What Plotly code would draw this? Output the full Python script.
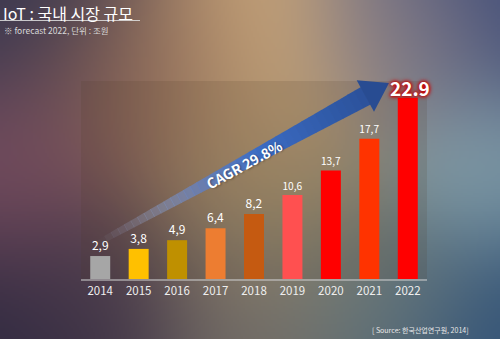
import base64
import math
import struct
import zlib

import numpy as np
import plotly.graph_objects as go

# ---- data -------------------------------------------------------------
years = ["2014", "2015", "2016", "2017", "2018", "2019", "2020", "2021", "2022"]
market_size = [2.9, 3.8, 4.9, 6.4, 8.2, 10.6, 13.7, 17.7, 22.9]  # 조원
bar_colors = ["#a6a6a6", "#ffc000", "#bf9000", "#ed7d31", "#c55a11",
              "#ff5050", "#ff0000", "#ff3300", "#ff0000"]
cagr_text = "CAGR 29.8%"
title_text = "IoT : 국내 시장 규모"
subtitle_text = "※ forecast 2022, 단위 : 조원"
source_text = "[ Source: 한국산업연구원, 2014]"

W, H = 500, 339
KR = "Noto Sans CJK KR"


def px(x):
    return x / W


def py(y):
    return 1 - y / H


# ---- blurred backdrop, rendered to a small PNG ---------------------------
def backdrop_png(w=250, h=170):
    blobs = [  # (x, y, colour, sigma) in page pixels
        (0, 0, (58, 56, 80), 90),
        (15, 175, (128, 80, 98), 70),
        (0, 339, (44, 40, 64), 90),
        (140, 90, (130, 92, 78), 70),
        (250, 60, (203, 167, 122), 80),
        (260, 200, (160, 142, 108), 80),
        (250, 335, (110, 106, 102), 70),
        (400, 40, (138, 128, 136), 60),
        (500, 0, (68, 80, 122), 80),
        (475, 170, (134, 162, 172), 60),
        (500, 339, (52, 84, 120), 90),
        (380, 300, (106, 122, 122), 60),
        (100, 300, (74, 58, 74), 70),
    ]
    xs = (np.arange(w) + 0.5) * W / w
    ys = (np.arange(h) + 0.5) * H / h
    X, Y = np.meshgrid(xs, ys)
    num = np.zeros((h, w, 3))
    den = np.zeros((h, w, 1))
    for bx, by, col, s in blobs:
        wgt = np.exp(-((X - bx) ** 2 + (Y - by) ** 2) / (2 * s * s))[..., None]
        num += wgt * np.array(col, dtype=float)
        den += wgt
    img = np.clip(num / (den + 1e-12), 0, 255).astype(np.uint8)
    raw = b"".join(b"\x00" + img[r].tobytes() for r in range(h))

    def chunk(tag, data):
        c = struct.pack(">I", len(data)) + tag + data
        return c + struct.pack(">I", zlib.crc32(tag + data) & 0xFFFFFFFF)

    png = (b"\x89PNG\r\n\x1a\n"
           + chunk(b"IHDR", struct.pack(">IIBBBBB", w, h, 8, 2, 0, 0, 0))
           + chunk(b"IDAT", zlib.compress(raw, 9))
           + chunk(b"IEND", b""))
    return "data:image/png;base64," + base64.b64encode(png).decode()


# ---- growth arrow (page pixels), drawn as fading slices ------------------
tip = (389.0, 83.0)
ang = math.radians(28.8)
u = (math.cos(ang), -math.sin(ang))
n = (math.sin(ang), math.cos(ang))
shaft_len, head_len = 331.0, 27.0
tail_half, neck_half, head_half = 3.0, 10.0, 18.0
base = (tip[0] - head_len * u[0], tip[1] - head_len * u[1])
tail = (tip[0] - shaft_len * u[0], tip[1] - shaft_len * u[1])


def along(t, k):
    """Point at distance t from the tail along the shaft, offset k across."""
    return (tail[0] + t * u[0] + k * n[0], tail[1] + t * u[1] + k * n[1])


def arrow_colour(f):
    stops = [(0.0, (170, 185, 220, 0.0)), (0.15, (150, 170, 215, 0.3)),
             (0.35, (95, 128, 200, 0.75)), (0.55, (60, 108, 196, 1.0)),
             (0.8, (48, 90, 168, 1.0)), (1.0, (40, 76, 146, 1.0))]
    for (f0, c0), (f1, c1) in zip(stops, stops[1:]):
        if f <= f1:
            a = (f - f0) / (f1 - f0)
            c = [c0[i] + a * (c1[i] - c0[i]) for i in range(4)]
            return f"rgba({c[0]:.0f},{c[1]:.0f},{c[2]:.0f},{c[3]:.2f})"
    return "rgba(40,76,146,1)"


fig = go.Figure()

# ---- bars -----------------------------------------------------------------
label_tpl = ["%{y:.1f}"] * (len(years) - 1) + [""]
fig.add_trace(go.Bar(
    x=years, y=market_size,
    marker=dict(color=bar_colors, line=dict(width=0)),
    texttemplate=label_tpl, textposition="outside",
    textfont=dict(family=KR, size=12, color="#ffffff"),
    cliponaxis=False, hoverinfo="skip", showlegend=False,
))

body_len = shaft_len - head_len
n_slices = 40
for i in range(n_slices):
    t0 = body_len * i / n_slices
    t1 = body_len * (i + 1) / n_slices + 0.6
    h0 = tail_half + (neck_half - tail_half) * t0 / body_len
    h1 = tail_half + (neck_half - tail_half) * min(t1, body_len) / body_len
    pts = [along(t0, -h0), along(t1, -h1), along(t1, h1), along(t0, h0),
           along(t0, -h0)]
    fig.add_trace(go.Scatter(
        x=[p[0] for p in pts], y=[p[1] for p in pts], xaxis="x2", yaxis="y2",
        mode="lines", line=dict(width=0), fill="toself",
        fillcolor=arrow_colour((t0 + t1) / 2 / shaft_len),
        hoverinfo="skip", showlegend=False,
    ))
head = [along(body_len, -head_half), tip, along(body_len, head_half),
        along(body_len, -head_half)]
fig.add_trace(go.Scatter(
    x=[p[0] for p in head], y=[p[1] for p in head], xaxis="x2", yaxis="y2",
    mode="lines", line=dict(width=0), fill="toself",
    fillcolor="rgb(40,76,146)", hoverinfo="skip", showlegend=False,
))

mid = along(shaft_len * 0.5, 1.0)
fig.add_annotation(
    x=mid[0], y=mid[1], xref="x2", yref="y2",
    text=f"<b>{cagr_text}</b>", showarrow=False,
    textangle=-math.degrees(ang),
    font=dict(family=KR, size=14, color="#ffffff",
              shadow="1px 1px 2px rgba(0,0,0,0.35)"),
)

# highlighted 2022 value (x given as category index)
last = len(years) - 1
fig.add_annotation(
    x=last, y=market_size[last], xref="x", yref="y",
    text=f"<b>{market_size[last]:.1f}</b>", showarrow=False,
    yanchor="middle", yshift=10, xshift=2,
    font=dict(family=KR, size=19, color="#ffffff",
              shadow="0 0 3px #c80000, 0 0 4px #c80000, 0 0 5px #d00000"),
)

# heading, subtitle, source
fig.add_annotation(x=px(2), y=1, xref="paper", yref="paper",
                   xanchor="left", yanchor="top", showarrow=False,
                   borderpad=0, text=title_text,
                   font=dict(family=KR, size=16, color="#ffffff"))
fig.add_annotation(x=px(3), y=py(30.5), xref="paper", yref="paper",
                   xanchor="left", yanchor="middle", showarrow=False,
                   borderpad=0, text=subtitle_text,
                   font=dict(family=KR, size=8.5, color="#d8d8d8"))
fig.add_annotation(x=px(471), y=py(330), xref="paper", yref="paper",
                   xanchor="right", yanchor="middle", showarrow=False,
                   text=source_text,
                   font=dict(family=KR, size=7, color="#e8e8e8"))

x0, x1, y0, y1 = 81, 427, 81, 279
fig.update_layout(
    width=W, height=H, margin=dict(l=0, r=0, t=0, b=0),
    paper_bgcolor="#5a5060", plot_bgcolor="rgba(0,0,0,0)",
    separators=",.", showlegend=False, bargap=0.48,
    images=[dict(source=backdrop_png(), xref="paper", yref="paper",
                 x=0, y=1, sizex=1, sizey=1, sizing="stretch",
                 xanchor="left", yanchor="top", layer="below")],
    shapes=[
        dict(type="rect", xref="paper", yref="paper",
             x0=px(x0), x1=px(x1), y0=py(y1), y1=py(y0),
             fillcolor="rgba(80,60,35,0.14)", line=dict(width=0),
             layer="below"),
        dict(type="line", xref="paper", yref="paper",
             x0=px(0), x1=px(140), y0=py(20.5), y1=py(20.5),
             line=dict(color="rgba(225,225,225,0.85)", width=1)),
    ],
    xaxis=dict(domain=[px(x0), px(x1)], type="category",
               categoryorder="array", categoryarray=years,
               range=[-0.5, len(years) - 0.5],
               showgrid=False, zeroline=False,
               showline=True, linecolor="rgba(200,200,200,0.55)", linewidth=2,
               ticks="", tickfont=dict(family=KR, size=11.5, color="#eeeeee")),
    yaxis=dict(domain=[py(y1), py(y0)], range=[0, 25], visible=False),
    xaxis2=dict(domain=[0, 1], range=[0, W], visible=False, anchor="y2"),
    yaxis2=dict(domain=[0, 1], range=[H, 0], visible=False, anchor="x2"),
)

fig.write_html("out.html")
